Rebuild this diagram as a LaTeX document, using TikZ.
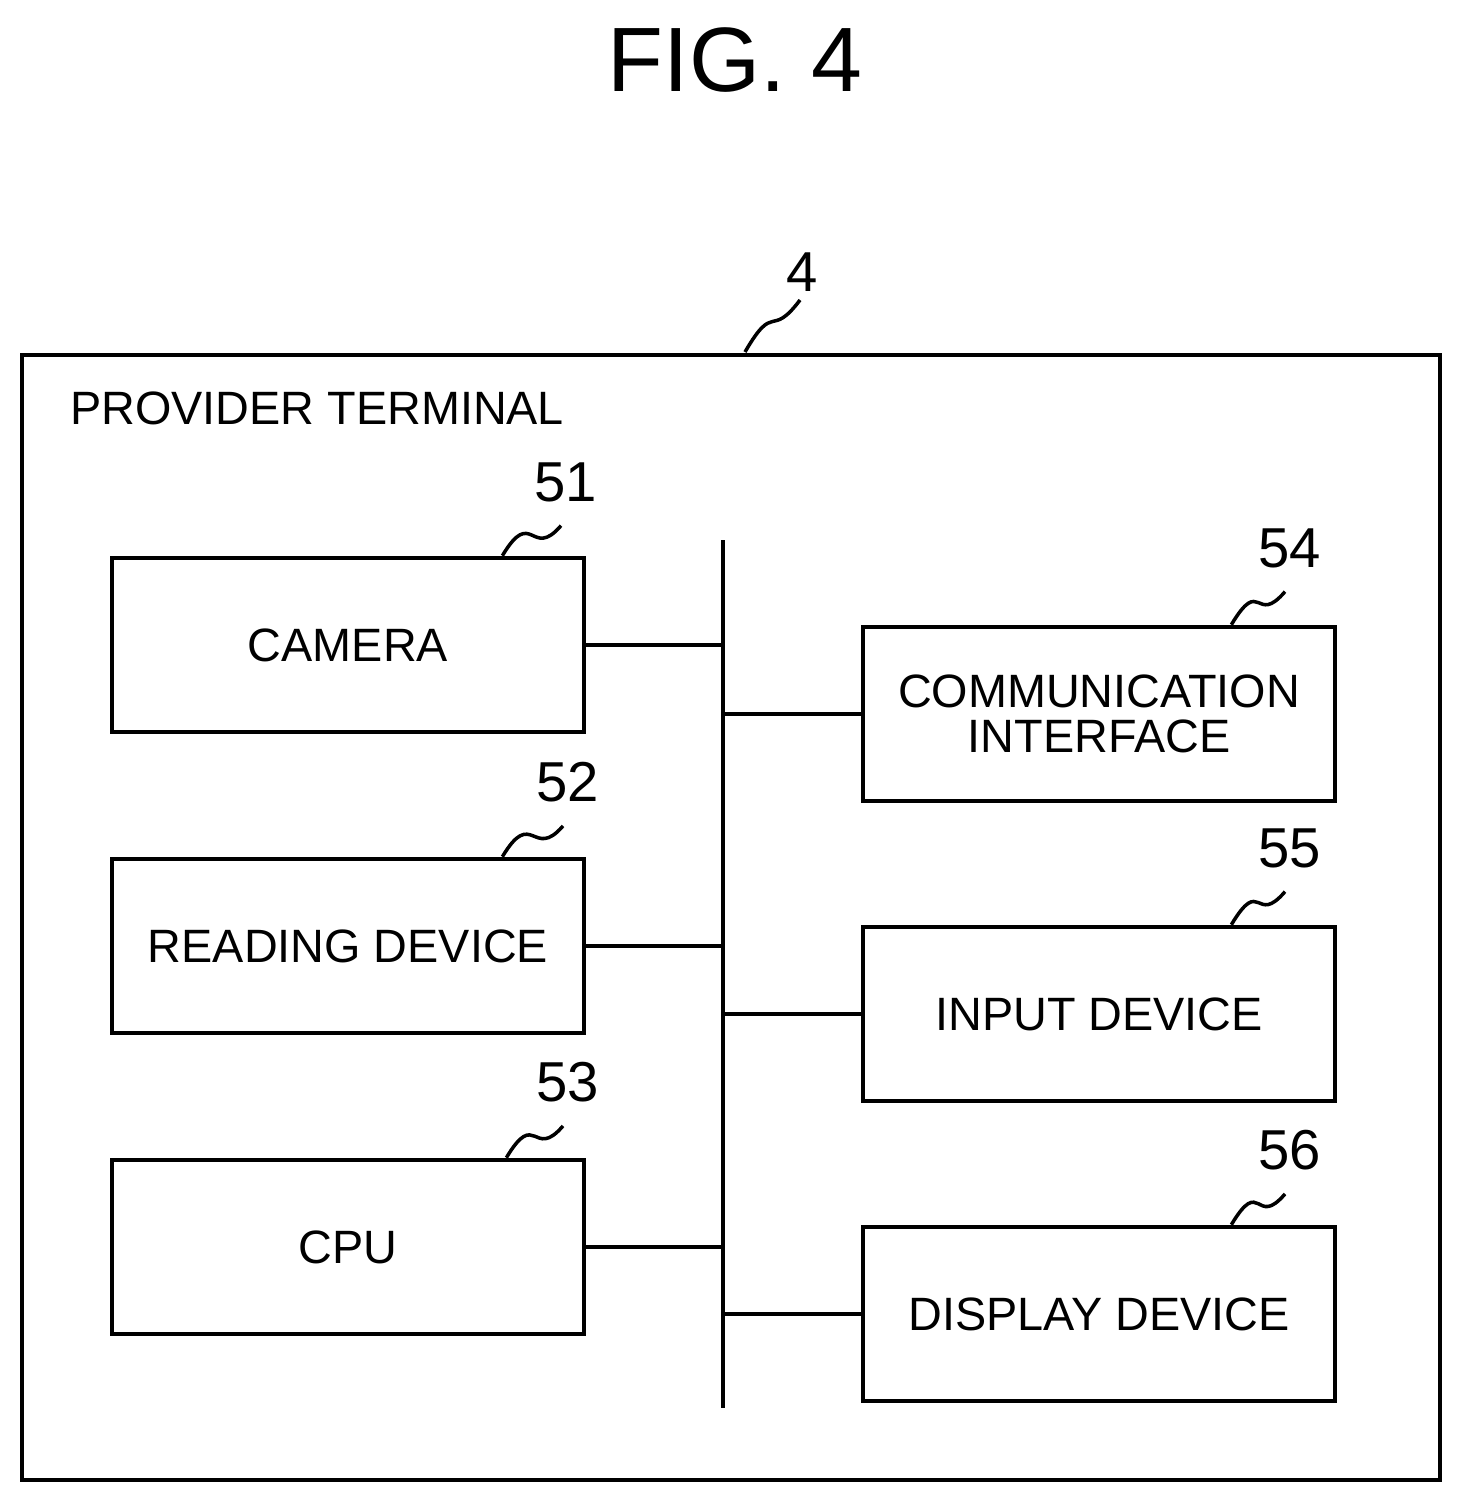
\documentclass[tikz,border=0pt]{standalone}
\usepackage{fontspec}
\setmainfont{Liberation Sans}
\usetikzlibrary{positioning}

\begin{document}
\begin{tikzpicture}[x=0.01cm, y=-0.01cm, line width=1.3pt,
  blk/.style={draw, minimum width=4.72cm, minimum height=1.74cm, inner sep=1pt, align=center, font=\fontsize{13.3}{15}\selectfont},
  num/.style={font=\fontsize{16}{18}\selectfont},
  lead/.style={line width=1pt}]
\useasboundingbox (0,0) rectangle (1462,1502);

\node[font=\fontsize{26}{28}\selectfont] (fig) at (735,60) {FIG. 4};

\draw (22,355) rectangle (1440,1480);
\node[anchor=west, inner sep=0pt, font=\fontsize{13.3}{15}\selectfont] (term) at (68,408) {PROVIDER TERMINAL};
\node[num] (n4) at (802,272) {4};
\draw[lead] (745,352) .. controls (775,300) and (770,340) .. (800,300);

% left column
\node[blk] (cam) at (348,645) {CAMERA};
\node[blk] (read) at (348,946) {READING DEVICE};
\node[blk] (cpu) at (348,1247) {CPU};
% right column
\node[blk] (comm) at (1099,714) {COMMUNICATION\\[-2pt]INTERFACE};
\node[blk] (inp) at (1099,1014) {INPUT DEVICE};
\node[blk] (disp) at (1099,1314) {DISPLAY DEVICE};

% bus
\coordinate (bt) at (723,540);
\coordinate (bb) at (723,1408);
\draw (bt) -- (bb);
\foreach \n in {cam, read, cpu} \draw (\n.east) -- (\n.east -| bt);
\foreach \n in {comm, inp, disp} \draw (\n.west) -- (\n.west -| bt);

% reference numerals
\node[num] (n51) at (566,482) {51};
\node[num] (n52) at (568,782) {52};
\node[num] (n53) at (568,1082) {53};
\node[num] (n54) at (1290,548) {54};
\node[num] (n55) at (1290,848) {55};
\node[num] (n56) at (1290,1150) {56};
\foreach \b/\n/\s in {cam/n51/0.84, read/n52/0.84, cpu/n53/0.8, comm/n54/1.06, inp/n55/1.06, disp/n56/1.06}
  \draw[lead] ([xshift=-\s cm]\b.north east) .. controls +(30,-50) and +(-30,35) .. ([xshift=-0.05cm,yshift=-0.1cm]\n.south);
\end{tikzpicture}
\end{document}
